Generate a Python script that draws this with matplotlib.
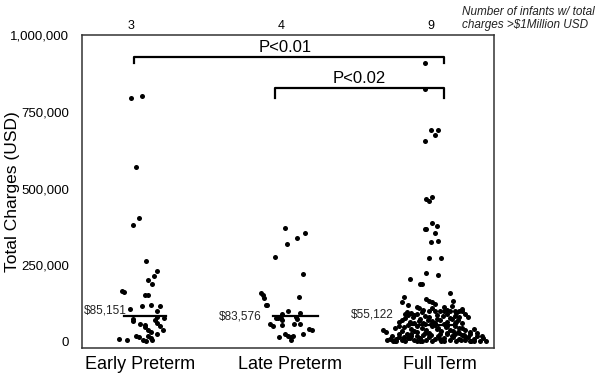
import matplotlib
matplotlib.use('Agg')
import matplotlib.pyplot as plt
import matplotlib.transforms as mtransforms

plt.rcParams['font.family'] = ['Liberation Sans', 'DejaVu Sans']

groups = ['Early Preterm', 'Late Preterm', 'Full Term']
over_million = ['3', '4', '9']
medians = [85151, 83576, 55122]
median_labels = ['$85,151', '$83,576', '$55,122']

# total charges per infant (USD) and horizontal scatter
early_vals = [796000, 802000, 570000, 405000, 381000, 264000, 230000, 215000, 200000, 188000,
              167000, 161000, 152000, 152000, 107000, 117000, 121000, 118000, 100000, 69000,
              75000, 59000, 55000, 49000, 37000, 71000, 62000, 50000, 40000, 78000,
              80000, 20000, 14000, 5000, 2000, 19000, 11000, 5000, 24000, 9000,
              6000, 33000]
early_jit = [-0.06, 0.01, -0.03, -0.01, -0.05, 0.04, 0.11, 0.09, 0.05, 0.08,
             -0.12, -0.11, 0.03, 0.05, -0.07, 0.01, 0.07, 0.13, 0.11, -0.05,
             -0.05, 0.00, 0.03, 0.03, 0.05, 0.10, 0.11, 0.13, 0.15, 0.16,
             0.11, -0.03, -0.01, 0.02, 0.04, 0.05, 0.07, 0.08, 0.11, -0.14,
             -0.09, 0.07]

late_vals = [372000, 356000, 337000, 318000, 275000, 221000, 160000, 152000, 144000, 121000,
             120000, 145000, 100000, 91000, 95000, 76000, 77000, 78000, 71000, 80000,
             75000, 59000, 57000, 57000, 50000, 54000, 43000, 39000, 26000, 16000,
             26000, 19000, 16000, 18000, 6000]
late_jit = [-0.03, 0.10, 0.05, -0.02, -0.10, 0.09, -0.19, -0.18, -0.17, -0.15,
            -0.16, 0.06, -0.01, -0.05, 0.07, -0.09, -0.08, -0.06, -0.05, 0.04,
            0.05, 0.03, 0.07, -0.13, -0.11, -0.05, 0.13, 0.15, 0.09, -0.07,
            -0.03, -0.01, 0.01, 0.02, 0.01]

full_vals = [909000, 824000, 692000, 691000, 673000, 654000, 467000, 458000, 473000, 387000,
             379000, 369000, 367000, 356000, 324000, 329000, 272000, 274000, 225000, 217000,
             206000, 187000, 187000, 160000, 145000, 130000, 139000, 134000, 131000, 134000,
             115000, 109000, 104000, 100000, 101000, 100000, 99000, 101000, 100000, 102000,
             99000, 98000, 95000, 112000, 118000, 108000, 120000, 122000,
             88000, 82000, 71000, 63000, 92000, 90000, 85000, 80000, 87000, 83000,
             90000, 85000, 80000, 92000, 75000, 70000, 68000, 72000, 66000, 75000,
             70000, 62000, 65000, 60000, 62000, 60000, 58000, 61000, 80000, 78000,
             39000, 33000, 45000, 50000, 55000, 42000, 52000, 45000, 38000, 50000,
             44000, 35000, 48000, 40000, 52000, 45000, 38000, 33000, 42000, 36000,
             34000, 30000, 32000, 30000, 56000, 57000,
             5000, 10000, 3000, 8000, 14000, 6000, 2000, 11000, 18000, 7000,
             3000, 13000, 22000, 6000, 15000, 2000, 9000, 20000, 4000, 12000,
             25000, 7000, 16000, 3000, 10000, 22000, 5000, 14000, 2000, 9000,
             18000, 4000, 11000, 2000, 20000, 24000, 27000, 28000, 27000, 26000,
             24000, 20000, 1000, 1000, 1000, 1000, 24000, 28000, 16000, 19000,
             20000, 17000,
             110000, 105000, 96000, 93000, 86000, 77000, 73000, 67000, 64000, 58000,
             53000, 48000, 46000, 41000, 36000, 31000, 29000, 26000, 23000, 21000,
             12000, 8000, 6000, 4000, 3000, 2000]
full_jit = [-0.10, -0.10, -0.06, -0.01, -0.03, -0.10, -0.09, -0.07, -0.05, -0.05,
            -0.02, -0.09, -0.10, -0.03, -0.06, -0.01, -0.07, 0.01, -0.09, -0.01,
            -0.20, -0.13, -0.12, 0.07, -0.24, -0.25, -0.09, -0.07, -0.05, 0.09,
            -0.15, -0.14, -0.11, -0.07, -0.03, 0.00, 0.03, 0.07, 0.10, 0.13,
            0.15, -0.22, -0.19, 0.03, 0.08, 0.15, -0.21, -0.03,
            -0.21, -0.18, -0.25, -0.27, -0.23, -0.15, -0.10, -0.07, -0.02, 0.02,
            0.05, 0.10, 0.13, 0.17, -0.13, -0.08, -0.05, 0.00, 0.05, 0.08,
            0.12, 0.15, -0.20, -0.17, -0.11, -0.03, 0.03, 0.10, 0.19, -0.23,
            -0.38, -0.36, -0.30, -0.27, -0.21, -0.19, -0.15, -0.12, -0.09, -0.05,
            -0.01, 0.01, 0.04, 0.07, 0.10, 0.13, 0.17, 0.20, 0.23, -0.25,
            -0.17, -0.07, 0.12, 0.25, -0.03, -0.10,
            -0.35, -0.33, -0.31, -0.29, -0.27, -0.25, -0.23, -0.21, -0.19, -0.17,
            -0.15, -0.13, -0.11, -0.09, -0.07, -0.05, -0.03, -0.01, 0.01, 0.03,
            0.05, 0.07, 0.09, 0.11, 0.13, 0.15, 0.17, 0.19, 0.21, 0.23,
            0.25, 0.27, 0.29, 0.31, -0.32, -0.27, -0.19, -0.10, 0.00, 0.10,
            0.20, 0.28, -0.30, -0.13, 0.03, 0.23, -0.07, 0.13, -0.24, -0.15,
            0.08, 0.17,
            -0.05, 0.05, -0.12, 0.11, -0.17, 0.07, -0.02, -0.14, 0.11, -0.06,
            0.05, -0.24, 0.15, -0.02, 0.09, -0.15, 0.05, -0.22, 0.16, -0.06,
            -0.20, 0.00, 0.14, -0.29, 0.20, -0.12]

fig = plt.figure(figsize=(6.0, 3.79), dpi=100)
ax = fig.add_axes([0.136, 0.082, 0.687, 0.825])

all_vals = [early_vals, late_vals, full_vals]
all_jit = [early_jit, late_jit, full_jit]
for i in range(3):
    xs = [i + j for j in all_jit[i]]
    ax.scatter(xs, all_vals[i], s=13, color='black', linewidths=0, zorder=3)

# median bars
med_span = [(-0.11, 0.17), (-0.11, 0.19), (-0.19, 0.10)]
lab_x = [-0.09, -0.19, -0.31]
lab_y = [101000, 81000, 88000]
for i in range(3):
    ax.plot([i + med_span[i][0], i + med_span[i][1]], [medians[i], medians[i]],
            color='black', lw=1.6, zorder=4)
    ax.text(i + lab_x[i], lab_y[i], median_labels[i], ha='right', va='center',
            fontsize=8.5, color='#222222')

# significance brackets
ax.plot([-0.04, -0.04, 2.03, 2.03], [909000, 929000, 929000, 909000], color='black', lw=1.6)
ax.text(0.97, 934000, 'P<0.01', ha='center', va='bottom', fontsize=12)
ax.plot([0.90, 0.90, 2.03, 2.03], [795000, 828000, 828000, 795000], color='black', lw=1.6)
ax.text(1.46, 833000, 'P<0.02', ha='center', va='bottom', fontsize=12)

ax.set_xlim(-0.39, 2.36)
ax.set_ylim(-20000, 1000000)
ax.set_xticks(range(3))
ax.set_xticklabels(groups, fontsize=13)
ax.set_yticks([0, 250000, 500000, 750000, 1000000])
ax.set_yticklabels(['0', '250,000', '500,000', '750,000', '1,000,000'], fontsize=9.5)
ax.tick_params(axis='both', length=0)
ax.tick_params(axis='y', pad=9)
ax.tick_params(axis='x', pad=6)
ax.set_ylabel('Total Charges (USD)', fontsize=12.5)
ax.yaxis.set_label_coords(-0.15, 0.5)
for sp in ax.spines.values():
    sp.set_linewidth(1.1)
    sp.set_color('#333333')

# counts above the frame
trans = mtransforms.blended_transform_factory(ax.transData, ax.transAxes)
for i in range(3):
    ax.text(i - 0.06, 1.01, over_million[i], transform=trans, ha='center', va='bottom', fontsize=9)
fig.text(0.77, 0.985, 'Number of infants w/ total\ncharges >$1Million USD', ha='left', va='top',
         fontsize=8.5, style='italic', color='#222222', linespacing=1.15)

fig.savefig('out.png', dpi=100)
